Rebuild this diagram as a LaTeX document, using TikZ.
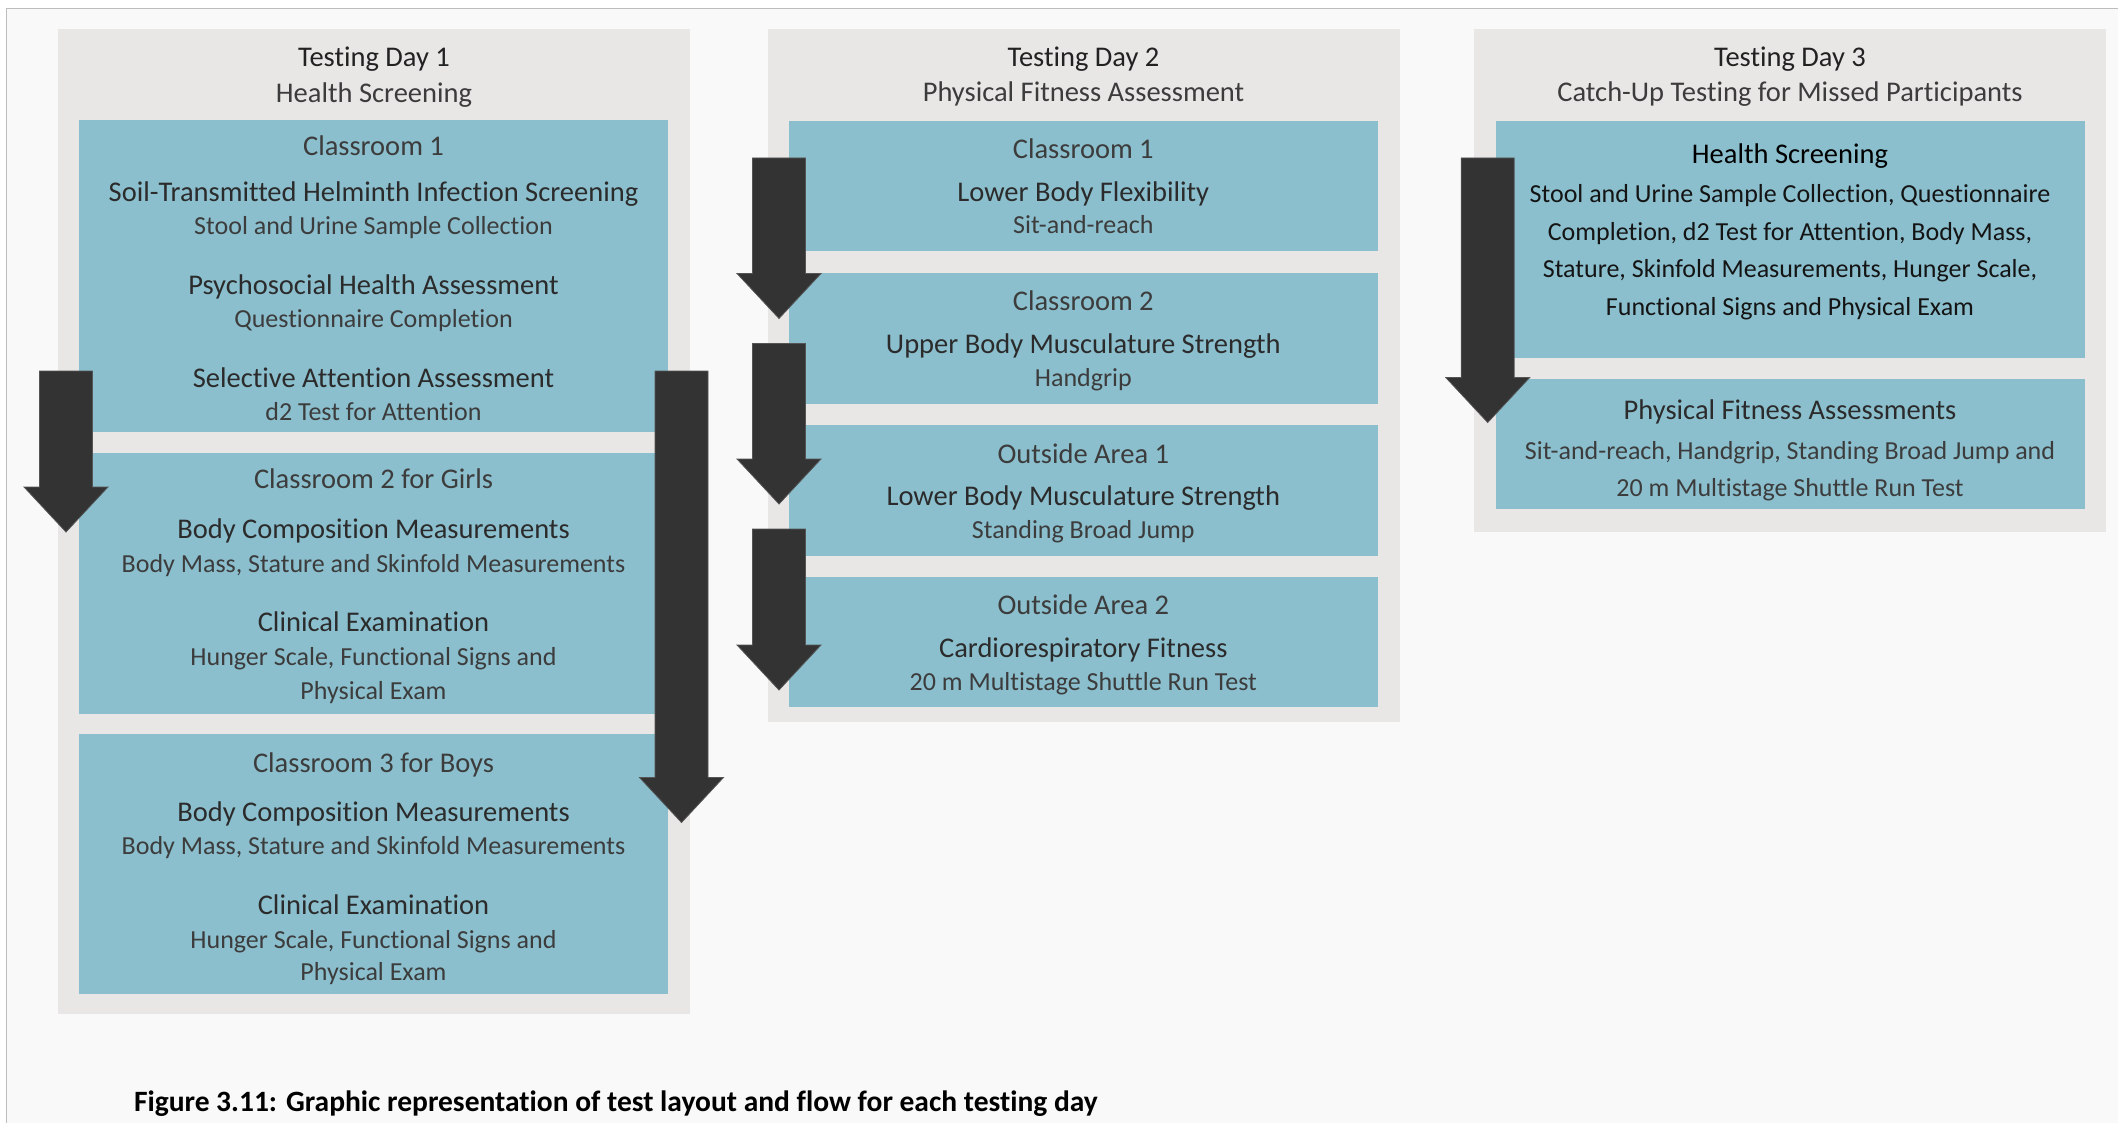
\documentclass[tikz,border=0pt]{standalone}
\usepackage{fontspec}
\setmainfont[Ligatures=NoCommon]{Carlito}
\definecolor{pagebg}{HTML}{F9F9F9}
\definecolor{frameline}{HTML}{BDBDBD}
\definecolor{panelgray}{HTML}{E8E7E6}
\definecolor{roomblue}{HTML}{8BBFCE}
\definecolor{arrowdark}{HTML}{333333}
\definecolor{arrowedge}{HTML}{555555}
\definecolor{titlecol}{HTML}{222222}
\definecolor{headcol}{HTML}{2B2B2B}
\definecolor{subcol}{HTML}{3C3C3C}

% filled rectangle node between two corners
\newcommand{\areabox}[6]{%
  \node[#2, anchor=north west, minimum width={(#5-#3)*1pt},
        minimum height={(#6-#4)*1pt}] (#1) at (#3,#4) {};}
% one centred line of text on its baseline
\newcommand{\tline}[5]{\node[#2] (#1) at (#3,#4) {#5};}
% downward block arrow: centre x, top y, tip y
\newcommand{\flowarrow}[4]{%
  \coordinate (#1) at (#2,#4);
  \filldraw[blockarrow] (#2-26.5,#3) -- (#2+26.5,#3) -- (#2+26.5,#4-45)
    -- (#2+42,#4-45) -- (#1) -- (#2-42,#4-45) -- (#2-26.5,#4-45) -- cycle;}

\begin{document}
\begin{tikzpicture}[x=1pt,y=-1pt,
  panel/.style={fill=panelgray, draw=none, inner sep=0pt, outer sep=0pt},
  room/.style={fill=roomblue, draw=none, inner sep=0pt, outer sep=0pt},
  blockarrow/.style={fill=arrowdark, draw=arrowedge, line width=0.8pt},
  txt/.style={inner sep=0pt, outer sep=0pt, anchor=base},
  daytitle/.style={txt, font=\fontsize{28.5}{34}\selectfont, text=titlecol},
  daysub/.style={txt, font=\fontsize{28.5}{34}\selectfont, text=subcol},
  roomname/.style={txt, font=\fontsize{28.5}{34}\selectfont, text=subcol},
  taskname/.style={txt, font=\fontsize{28.5}{34}\selectfont, text=headcol},
  taskinfo/.style={txt, font=\fontsize{26}{32}\selectfont, text=subcol},
  darkname/.style={txt, font=\fontsize{28.5}{34}\selectfont, text=black},
  darkinfo/.style={txt, font=\fontsize{26}{32}\selectfont, text=black!92},
  caption/.style={inner sep=0pt, outer sep=0pt, anchor=base west,
    font=\fontsize{29.5}{34}\selectfont\bfseries, text=black}]

% page and frame
\useasboundingbox (0,0) rectangle (2118,1123);
\fill[white] (0,0) rectangle (2118,1123);
\fill[pagebg] (6.5,8.5) rectangle (2118,1123);
\draw[frameline, line width=1.6pt] (6.5,1123) -- (6.5,8.5) -- (2118,8.5);

% ---------------- Testing Day 1 ----------------
\areabox{d1}{panel}{58}{29}{690}{1014}
\areabox{d1r1}{room}{79}{120}{668}{432}
\areabox{d1r2}{room}{79}{453}{668}{714}
\areabox{d1r3}{room}{79}{734}{668}{994}

\tline{d1t}{daytitle}{374}{67}{Testing Day 1}
\tline{d1s}{daysub}{374}{102.5}{Health Screening}

\tline{d1r1n}{roomname}{373.5}{155.5}{Classroom 1}
\tline{d1r1a}{taskname}{373.5}{202}{Soil-Transmitted Helminth Infection Screening}
\tline{d1r1b}{taskinfo}{373.5}{234.5}{Stool and Urine Sample Collection}
\tline{d1r1c}{taskname}{373.5}{294.5}{Psychosocial Health Assessment}
\tline{d1r1d}{taskinfo}{373.5}{328}{Questionnaire Completion}
\tline{d1r1e}{taskname}{373.5}{387}{Selective Attention Assessment}
\tline{d1r1f}{taskinfo}{373.5}{420.5}{d2 Test for Attention}

\tline{d1r2n}{roomname}{373.5}{488.5}{Classroom 2 for Girls}
\tline{d1r2a}{taskname}{373.5}{538.5}{Body Composition Measurements}
\tline{d1r2b}{taskinfo}{373.5}{572.5}{Body Mass, Stature and Skinfold Measurements}
\tline{d1r2c}{taskname}{373.5}{631.5}{Clinical Examination}
\tline{d1r2d}{taskinfo}{373.5}{665.5}{Hunger Scale, Functional Signs and}
\tline{d1r2e}{taskinfo}{373.5}{699}{Physical Exam}

\tline{d1r3n}{roomname}{373.5}{772}{Classroom 3 for Boys}
\tline{d1r3a}{taskname}{373.5}{821.5}{Body Composition Measurements}
\tline{d1r3b}{taskinfo}{373.5}{854}{Body Mass, Stature and Skinfold Measurements}
\tline{d1r3c}{taskname}{373.5}{914}{Clinical Examination}
\tline{d1r3d}{taskinfo}{373.5}{948}{Hunger Scale, Functional Signs and}
\tline{d1r3e}{taskinfo}{373.5}{980.5}{Physical Exam}

\flowarrow{d1girls}{66}{371}{532}
\flowarrow{d1boys}{681.5}{371}{822.5}

% ---------------- Testing Day 2 ----------------
\areabox{d2}{panel}{768}{29}{1399.5}{722}
\areabox{d2r1}{room}{789}{121}{1377.5}{251.5}
\areabox{d2r2}{room}{789}{273}{1377.5}{403.5}
\areabox{d2r3}{room}{789}{425}{1377.5}{555.5}
\areabox{d2r4}{room}{789}{577}{1377.5}{707}

\tline{d2t}{daytitle}{1083.5}{66.5}{Testing Day 2}
\tline{d2s}{daysub}{1083.5}{102}{Physical Fitness Assessment}

\tline{d2r1n}{roomname}{1083.3}{158.5}{Classroom 1}
\tline{d2r1a}{taskname}{1083.3}{201.5}{Lower Body Flexibility}
\tline{d2r1b}{taskinfo}{1083.3}{234}{Sit-and-reach}

\tline{d2r2n}{roomname}{1083.3}{311}{Classroom 2}
\tline{d2r2a}{taskname}{1083.3}{353.5}{Upper Body Musculature Strength}
\tline{d2r2b}{taskinfo}{1083.3}{386}{Handgrip}

\tline{d2r3n}{roomname}{1083.3}{463}{Outside Area 1}
\tline{d2r3a}{taskname}{1083.3}{505.5}{Lower Body Musculature Strength}
\tline{d2r3b}{taskinfo}{1083.3}{538}{Standing Broad Jump}

\tline{d2r4n}{roomname}{1083.3}{614.5}{Outside Area 2}
\tline{d2r4a}{taskname}{1083.3}{657}{Cardiorespiratory Fitness}
\tline{d2r4b}{taskinfo}{1083.3}{690.5}{20 m Multistage Shuttle Run Test}

\flowarrow{d2a}{779}{158}{318.5}
\flowarrow{d2b}{779}{343.5}{504}
\flowarrow{d2c}{779}{529}{690}

% ---------------- Testing Day 3 ----------------
\areabox{d3}{panel}{1474}{29}{2105.5}{532}
\areabox{d3r1}{room}{1496}{121.5}{2084.5}{358}
\areabox{d3r2}{room}{1496}{379}{2084.5}{509}

\tline{d3t}{daytitle}{1790}{67}{Testing Day 3}
\tline{d3s}{daysub}{1790}{102}{Catch-Up Testing for Missed Participants}

\tline{d3r1a}{darkname}{1790}{164}{Health Screening}
\tline{d3r1b}{darkinfo}{1790}{203}{Stool and Urine Sample Collection, Questionnaire}
\tline{d3r1c}{darkinfo}{1790}{240.5}{Completion, d2 Test for Attention, Body Mass,}
\tline{d3r1d}{darkinfo}{1790}{278}{Stature, Skinfold Measurements, Hunger Scale,}
\tline{d3r1e}{darkinfo}{1790}{315.5}{Functional Signs and Physical Exam}

\tline{d3r2a}{taskname}{1790}{419.5}{Physical Fitness Assessments}
\tline{d3r2b}{taskinfo}{1790}{459}{Sit-and-reach, Handgrip, Standing Broad Jump and}
\tline{d3r2c}{taskinfo}{1790}{496}{20 m Multistage Shuttle Run Test}

\flowarrow{d3a}{1487.7}{158}{422.5}

% caption
\node[caption] (cap) at (134,1111)
  {Figure 3.11: Graphic representation of test layout and flow for each testing day};
\end{tikzpicture}
\end{document}
